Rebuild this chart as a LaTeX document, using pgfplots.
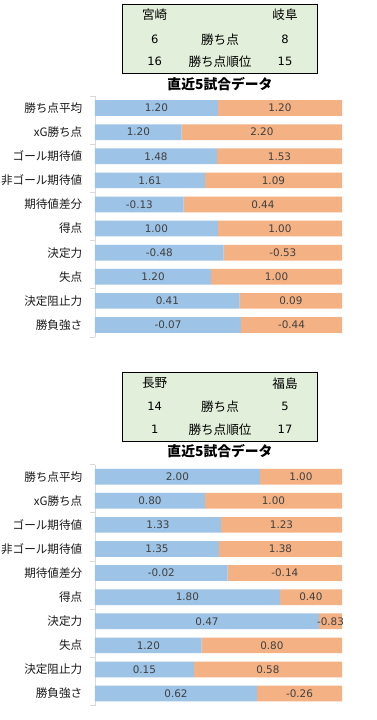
\documentclass[border=0pt]{standalone}
\usepackage{fontspec}
\setmainfont{DejaVu Sans}
\newfontfamily\cjk{Noto Sans CJK JP}
\usepackage{pgfplots}
\usepackage{pgfplotstable}
\pgfplotsset{compat=1.18}
\definecolor{barblue}{HTML}{9DC3E6}
\definecolor{barorange}{HTML}{F4B183}
\definecolor{boxgreen}{HTML}{E2EFDA}
\definecolor{numgray}{HTML}{404040}
\definecolor{axgray}{HTML}{D9D9D9}
\definecolor{labblack}{HTML}{1A1A1A}

\pgfplotstableread{
y a b la lb
1 0.497 0.503 1.20 1.20
2 0.351 0.649 1.20 2.20
3 0.494 0.506 1.48 1.53
4 0.445 0.555 1.61 1.09
5 0.359 0.641 -0.13 0.44
6 0.497 0.503 1.00 1.00
7 0.521 0.479 -0.48 -0.53
8 0.470 0.530 1.20 1.00
9 0.586 0.414 0.41 0.09
10 0.591 0.409 -0.07 -0.44
}\tabA

\pgfplotstableread{
y a b la lb
1 0.667 0.333 2.00 1.00
2 0.445 0.555 0.80 1.00
3 0.510 0.490 1.33 1.23
4 0.502 0.498 1.35 1.38
5 0.537 0.463 -0.02 -0.14
6 0.748 0.252 1.80 0.40
7 0.907 0.093 0.47 -0.83
8 0.432 0.568 1.20 0.80
9 0.400 0.600 0.15 0.58
10 0.656 0.344 0.62 -0.26
}\tabB

\newcommand{\lab}[1]{{\fontsize{11.6}{13}\selectfont\cjk #1}}

\pgfplotsset{
  barpanel/.style={
    scale only axis, width=247pt, height=241pt,
    xbar stacked, bar width=15.7pt,
    xmin=0, xmax=1, ymin=0.5, ymax=10.5, y dir=reverse,
    hide x axis, axis y line=left,
    y axis line style={-, draw=axgray, line width=0.8pt},
    ytick={1,...,10},
    yticklabels={\lab{勝ち点平均},\lab{xG勝ち点},\lab{ゴール期待値},\lab{非ゴール期待値},\lab{期待値差分},\lab{得点},\lab{決定力},\lab{失点},\lab{決定阻止力},\lab{勝負強さ}},
    yticklabel style={text=labblack, xshift=-12.5pt, inner sep=0pt, anchor=east},
    major tick length=0pt,
    extra y ticks={0.5,2.5,4.5,6.5,8.5,10.5},
    extra y tick labels={},
    extra y tick style={major tick length=5pt, tick align=outside, tick style={draw=axgray, line width=0.8pt}},
    clip=false,
  },
  labpanel/.style={
    scale only axis, width=247pt, height=241pt,
    xmin=0, xmax=1, ymin=0.5, ymax=10.5, y dir=reverse,
    hide axis, clip=false,
  },
  labplot/.style={only marks, mark=*, mark size=0pt, mark options={draw=none, fill=none},
    nodes near coords, point meta=explicit symbolic,
    every node near coord/.append style={anchor=center, font=\fontsize{10.4}{12}\selectfont, text=numgray}},
}

\begin{document}
\begin{tikzpicture}
\path[use as bounding box] (0,0) rectangle (376pt,-720pt);

% ---------- top panel ----------
\draw[fill=boxgreen, draw=black, line width=0.9pt] (122pt,-4pt) rectangle (317pt,-73.3pt);
\node[font=\cjk\fontsize{12.6}{14}\selectfont] at (154.7pt,-15pt) {宮崎};
\node[font=\cjk\fontsize{12.6}{14}\selectfont] at (285pt,-15pt) {岐阜};
\node[font=\fontsize{11.5}{14}\selectfont] at (154.7pt,-39.3pt) {6};
\node[font=\cjk\fontsize{12.6}{14}\selectfont] at (220pt,-39.3pt) {勝ち点};
\node[font=\fontsize{11.5}{14}\selectfont] at (285pt,-39.3pt) {8};
\node[font=\fontsize{11.5}{14}\selectfont] at (154.7pt,-61.7pt) {16};
\node[font=\cjk\fontsize{12.6}{14}\selectfont] at (220pt,-61.7pt) {勝ち点順位};
\node[font=\fontsize{11.5}{14}\selectfont] at (285pt,-61.7pt) {15};
\node[font=\cjk\bfseries\fontsize{13.8}{16}\selectfont] at (220pt,-84pt) {直近5試合データ};

\begin{axis}[barpanel, at={(95pt,-96pt)}, anchor=north west]
\addplot[fill=barblue, draw=none] table[x=a, y=y] {\tabA};
\addplot[fill=barorange, draw=none] table[x=b, y=y] {\tabA};
\end{axis}
\begin{axis}[labpanel, at={(95pt,-96pt)}, anchor=north west]
\addplot[labplot] table[x expr=\thisrow{a}/2, y=y, meta=la] {\tabA};
\addplot[labplot] table[x expr=\thisrow{a}+\thisrow{b}/2, y=y, meta=lb] {\tabA};
\end{axis}

% ---------- bottom panel ----------
\draw[fill=boxgreen, draw=black, line width=0.9pt] (122pt,-372.3pt) rectangle (317pt,-441pt);
\node[font=\cjk\fontsize{12.6}{14}\selectfont] at (154.7pt,-383.3pt) {長野};
\node[font=\cjk\fontsize{12.6}{14}\selectfont] at (285pt,-383.3pt) {福島};
\node[font=\fontsize{11.5}{14}\selectfont] at (154.7pt,-406.7pt) {14};
\node[font=\cjk\fontsize{12.6}{14}\selectfont] at (220pt,-406.7pt) {勝ち点};
\node[font=\fontsize{11.5}{14}\selectfont] at (285pt,-406.7pt) {5};
\node[font=\fontsize{11.5}{14}\selectfont] at (154.7pt,-429.3pt) {1};
\node[font=\cjk\fontsize{12.6}{14}\selectfont] at (220pt,-429.3pt) {勝ち点順位};
\node[font=\fontsize{11.5}{14}\selectfont] at (285pt,-429.3pt) {17};
\node[font=\cjk\bfseries\fontsize{13.8}{16}\selectfont] at (220pt,-450.7pt) {直近5試合データ};

\begin{axis}[barpanel, at={(95pt,-464.6pt)}, anchor=north west]
\addplot[fill=barblue, draw=none] table[x=a, y=y] {\tabB};
\addplot[fill=barorange, draw=none] table[x=b, y=y] {\tabB};
\end{axis}
\begin{axis}[labpanel, at={(95pt,-464.6pt)}, anchor=north west]
\addplot[labplot] table[x expr=\thisrow{a}/2, y=y, meta=la] {\tabB};
\addplot[labplot] table[x expr=\thisrow{a}+\thisrow{b}/2, y=y, meta=lb] {\tabB};
\end{axis}
\end{tikzpicture}
\end{document}
